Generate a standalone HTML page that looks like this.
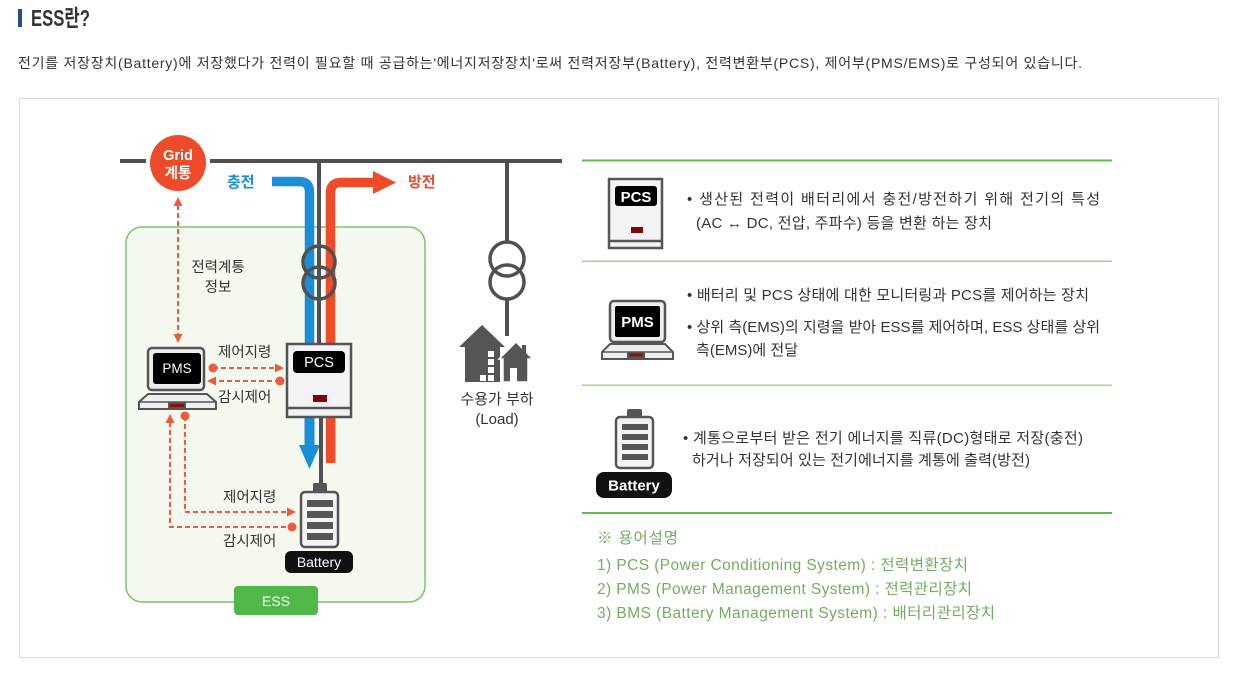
<!DOCTYPE html>
<html><head><meta charset="utf-8">
<style>
html,body{margin:0;padding:0;background:#fff;}
svg{display:block;}
text{font-family:"Liberation Sans","Noto Sans CJK KR",sans-serif;}
</style></head>
<body>
<svg width="1240" height="673" viewBox="0 0 1240 673" xmlns="http://www.w3.org/2000/svg">
<!-- header -->
<rect x="18" y="9" width="4" height="18" fill="#2b4d8c"/>
<text x="31" y="26" font-size="23" font-weight="bold" fill="#333" textLength="59" lengthAdjust="spacingAndGlyphs">ESS란?</text>
<text x="18" y="68" font-size="14" fill="#333" textLength="1064" lengthAdjust="spacing">전기를 저장장치(Battery)에 저장했다가 전력이 필요할 때 공급하는'에너지저장장치'로써 전력저장부(Battery), 전력변환부(PCS), 제어부(PMS/EMS)로 구성되어 있습니다.</text>

<!-- outer box -->
<rect x="19.5" y="98.5" width="1199" height="559" fill="none" stroke="#d9d9d9" stroke-width="1"/>

<!-- ESS green box -->
<rect x="126" y="227" width="299" height="375" rx="16" fill="#f5f8ee" stroke="#7cc56c" stroke-width="1.5"/>
<rect x="234" y="586" width="84" height="29" rx="4" fill="#4fb848"/>
<text x="276" y="606" font-size="14" fill="#fff" text-anchor="middle">ESS</text>

<!-- main line -->
<rect x="120" y="159" width="442" height="4" fill="#505050"/>
<!-- vertical line to PCS -->
<rect x="317" y="161" width="4" height="183" fill="#505050"/>
<!-- vertical to load (broken inside transformer) -->
<rect x="505" y="161" width="4" height="82" fill="#505050"/>
<rect x="505" y="298" width="4" height="38" fill="#505050"/>

<!-- blue pipe -->
<path d="M272,181.5 H299 Q309.5,181.5 309.5,192 V420" fill="none" stroke="#1a8fd8" stroke-width="9.5"/>
<!-- red pipe -->
<path d="M330.5,420 V193 Q330.5,182.5 341,182.5 H374" fill="none" stroke="#ee4b2b" stroke-width="9.5"/>
<polygon points="373,171 396,182.5 373,194" fill="#ee4b2b"/>

<!-- transformer left -->
<circle cx="319" cy="262" r="16" fill="none" stroke="#505050" stroke-width="3.5"/>
<circle cx="319" cy="283" r="16" fill="none" stroke="#505050" stroke-width="3.5"/>
<!-- transformer load -->
<circle cx="507" cy="259" r="17" fill="none" stroke="#505050" stroke-width="3.5"/>
<circle cx="507" cy="282" r="17" fill="none" stroke="#505050" stroke-width="3.5"/>

<!-- labels charge/discharge -->
<text x="227" y="187" font-size="15" font-weight="bold" fill="#1a8fd8">충전</text>
<text x="408" y="187" font-size="15" font-weight="bold" fill="#ee4b2b">방전</text>

<!-- Grid circle -->
<circle cx="178" cy="163" r="28" fill="#ee4b2b" stroke="#fff" stroke-width="8"/>
<circle cx="178" cy="163" r="28" fill="#ee4b2b"/>
<text x="178" y="160" font-size="14.5" font-weight="bold" fill="#fff" text-anchor="middle">Grid</text>
<text x="178" y="178" font-size="14.5" font-weight="bold" fill="#fff" text-anchor="middle">계통</text>

<!-- below PCS pipes -->
<rect x="304.5" y="416" width="10" height="32" fill="#1a8fd8"/>
<polygon points="299,445 320,445 309.5,469" fill="#1a8fd8"/>
<rect x="326" y="416" width="9.5" height="47" fill="#ee4b2b"/>
<rect x="319" y="418" width="4" height="66" fill="#505050"/>

<!-- PCS diagram box -->
<rect x="287" y="344" width="64" height="73" fill="#f3f3f5" stroke="#555" stroke-width="2.5"/>
<line x1="287" y1="408" x2="351" y2="408" stroke="#555" stroke-width="2.5"/>
<rect x="293" y="351" width="52" height="22" rx="4" fill="#000"/>
<text x="319" y="367" font-size="14.5" fill="#fff" text-anchor="middle">PCS</text>
<rect x="313" y="395" width="14" height="7" fill="#7a0a0a"/>

<!-- Battery diagram -->
<rect x="313" y="483" width="14" height="10" rx="2" fill="#555"/>
<rect x="301" y="492" width="37" height="55" rx="4" fill="#f3f3f5" stroke="#555" stroke-width="2.5"/>
<rect x="307" y="500" width="26" height="7" fill="#555"/>
<rect x="307" y="511" width="26" height="7" fill="#555"/>
<rect x="307" y="522" width="26" height="7" fill="#555"/>
<rect x="307" y="533" width="26" height="7" fill="#555"/>
<rect x="285" y="551" width="68" height="22" rx="6" fill="#111"/>
<text x="319" y="567" font-size="14" fill="#fff" text-anchor="middle">Battery</text>

<!-- PMS laptop diagram -->
<rect x="148" y="348" width="56" height="42" rx="4" fill="#eee" stroke="#555" stroke-width="2.5"/>
<rect x="153" y="353" width="48" height="31" rx="3" fill="#000"/>
<text x="177" y="373" font-size="13.5" fill="#fff" text-anchor="middle">PMS</text>
<polygon points="148,394 207,394 216,402 216,409 139,409 139,402" fill="#eee" stroke="#555" stroke-width="2"/>
<line x1="139" y1="402" x2="216" y2="402" stroke="#555" stroke-width="1.5"/>
<rect x="168" y="402" width="18" height="7" fill="#555"/>
<rect x="170" y="404" width="14" height="3" fill="#8b1010"/>

<!-- dashed connectors -->
<g stroke="#ee5a3c" stroke-width="2" fill="none" stroke-dasharray="5,3">
  <line x1="178" y1="205" x2="178" y2="335"/>
  <line x1="213" y1="368" x2="276" y2="368"/>
  <line x1="280" y1="381" x2="215" y2="381"/>
  <polyline points="170,422 170,527 292,527"/>
  <polyline points="185,416 185,512 288,512"/>
</g>
<g fill="#ee5a3c">
  <polygon points="178,197 173.5,206 182.5,206"/>
  <polygon points="178,343 173.5,334 182.5,334"/>
  <polygon points="284,368 275,363.5 275,372.5"/>
  <polygon points="207,381 216,376.5 216,385.5"/>
  <polygon points="170,414 165.5,423 174.5,423"/>
  <polygon points="296,512 287,507.5 287,516.5"/>
  <circle cx="213" cy="368" r="4.5"/>
  <circle cx="280" cy="381" r="4.5"/>
  <circle cx="185" cy="416" r="4.5"/>
  <circle cx="292" cy="527" r="4.5"/>
</g>

<!-- diagram text labels -->
<g font-size="14.5" fill="#333">
  <text x="218" y="272" text-anchor="middle">전력계통</text>
  <text x="218" y="292" text-anchor="middle">정보</text>
  <text x="218" y="357">제어지령</text>
  <text x="218" y="402">감시제어</text>
  <text x="223" y="502">제어지령</text>
  <text x="223" y="546">감시제어</text>
  <text x="497" y="404" text-anchor="middle" font-size="15">수용가 부하</text>
  <text x="497" y="424" text-anchor="middle" font-size="15">(Load)</text>
</g>

<!-- houses -->
<polygon points="482,325 505,347 500,347 500,382 465,382 465,347 459,347" fill="#555"/>
<g fill="#fff">
  <rect x="488" y="351" width="6" height="6"/>
  <rect x="488" y="359" width="6" height="6"/>
  <rect x="488" y="367" width="6" height="6"/>
  <rect x="480" y="375" width="6" height="6"/>
  <rect x="488" y="375" width="6" height="6"/>
</g>
<polygon points="516,342 533,359 528,359 528,382 503,382 503,359 499,359" fill="#555" stroke="#fff" stroke-width="1.5"/>
<rect x="522" y="345" width="4" height="9" fill="#555"/>
<rect x="510" y="368" width="7" height="14" fill="#fff"/>

<!-- right panel separators -->
<rect x="582" y="159.5" width="530" height="2" fill="#62bb52"/>
<rect x="582" y="260.5" width="530" height="1.5" fill="#9fd391"/>
<rect x="582" y="384.5" width="530" height="1.5" fill="#9fd391"/>
<rect x="582" y="512" width="530" height="2" fill="#62bb52"/>

<!-- right PCS icon -->
<rect x="609" y="179" width="53" height="69" fill="#f3f3f5" stroke="#555" stroke-width="2.5"/>
<line x1="609" y1="241" x2="662" y2="241" stroke="#555" stroke-width="2.5"/>
<rect x="615" y="186" width="42" height="20" rx="3" fill="#000"/>
<text x="636" y="202" font-size="15" font-weight="bold" fill="#fff" text-anchor="middle">PCS</text>
<rect x="631" y="227" width="12" height="6" fill="#7a0a0a"/>

<!-- right PMS icon -->
<rect x="610" y="301" width="55" height="41" rx="4" fill="#eee" stroke="#555" stroke-width="2.5"/>
<rect x="615" y="306" width="45" height="31" rx="2" fill="#000"/>
<text x="637.5" y="327" font-size="15" font-weight="bold" fill="#fff" text-anchor="middle">PMS</text>
<polygon points="610,344 665,344 673,352 673,359 602,359 602,352" fill="#eee" stroke="#555" stroke-width="2"/>
<line x1="602" y1="352" x2="673" y2="352" stroke="#555" stroke-width="1.5"/>
<rect x="627" y="352" width="18" height="6" fill="#555"/>
<rect x="629" y="353.5" width="14" height="3" fill="#8b1010"/>

<!-- right battery icon -->
<rect x="627" y="409" width="15" height="9" rx="2" fill="#555"/>
<rect x="616" y="417" width="37" height="51" rx="4" fill="#f3f3f5" stroke="#555" stroke-width="2.5"/>
<rect x="622" y="424" width="26" height="6" fill="#555"/>
<rect x="622" y="434" width="26" height="6" fill="#555"/>
<rect x="622" y="444" width="26" height="6" fill="#555"/>
<rect x="622" y="454" width="26" height="6" fill="#555"/>
<rect x="596" y="472" width="76" height="26" rx="8" fill="#111"/>
<text x="634" y="490.5" font-size="15" font-weight="bold" fill="#fff" text-anchor="middle">Battery</text>

<!-- right panel text -->
<g font-size="15" fill="#333">
  <text x="687" y="204" textLength="413" lengthAdjust="spacing">• 생산된 전력이 배터리에서 충전/방전하기 위해 전기의 특성</text>
  <text x="696" y="228" textLength="296" lengthAdjust="spacing">(AC ↔ DC, 전압, 주파수) 등을 변환 하는 장치</text>
  <text x="687" y="300" textLength="402" lengthAdjust="spacing">• 배터리 및 PCS 상태에 대한 모니터링과 PCS를 제어하는 장치</text>
  <text x="687" y="332" textLength="413" lengthAdjust="spacing">• 상위 측(EMS)의 지령을 받아 ESS를 제어하며, ESS 상태를 상위</text>
  <text x="696" y="355" textLength="102" lengthAdjust="spacing">측(EMS)에 전달</text>
  <text x="683" y="443" textLength="400" lengthAdjust="spacing">• 계통으로부터 받은 전기 에너지를 직류(DC)형태로 저장(충전)</text>
  <text x="692" y="465" textLength="338" lengthAdjust="spacing">하거나 저장되어 있는 전기에너지를 계통에 출력(방전)</text>
</g>
<g font-size="15.5" fill="#72ad5f">
  <text x="597" y="543" textLength="81" lengthAdjust="spacing">※ 용어설명</text>
  <text x="597" y="570" textLength="371" lengthAdjust="spacing">1) PCS (Power Conditioning System) : 전력변환장치</text>
  <text x="597" y="594" textLength="375" lengthAdjust="spacing">2) PMS (Power Management System) : 전력관리장치</text>
  <text x="597" y="618" textLength="398" lengthAdjust="spacing">3) BMS (Battery Management System) : 배터리관리장치</text>
</g>
</svg>
</body></html>
